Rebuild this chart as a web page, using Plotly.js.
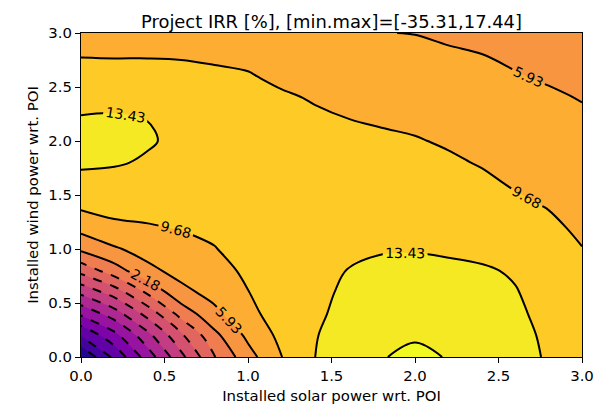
<!DOCTYPE html>
<html>
<head>
<meta charset="utf-8">
<script src="https://cdn.plot.ly/plotly-3.0.1.min.js"></script>
<style>
  html, body { margin: 0; padding: 0; background: #ffffff; }
  #chart { width: 610px; height: 405px; }
</style>
</head>
<body>
<div id="chart"></div>
<script>
// Installed solar power wrt. POI (x) and installed wind power wrt. POI (y)
const solarX = [0.0, 0.2, 0.4, 0.6, 0.8, 1.0, 1.2, 1.4, 1.6, 1.8, 2.0, 2.2, 2.4, 2.6, 2.8, 3.0];
const windY  = [0.0, 0.2, 0.4, 0.6, 0.8, 1.0, 1.2, 1.4, 1.6, 1.8, 2.0, 2.2, 2.4, 2.6, 2.8, 3.0];

// Project IRR [%], one row per wind value
const irrRow00 = [-35.31, -26.9, -18.5, -10.1, -1.7, 4.5, 9.6, 13.4, 15.7, 17.12, 17.44, 17.12, 16.3, 14.9, 13.0, 11.6];
const irrRow02 = [-27.5, -21.5, -13.9, -6.0, 1.2, 6.8, 10.6, 13.2, 15.3, 16.6, 17.05, 16.6, 15.8, 14.5, 12.8, 11.3];
const irrRow04 = [-19.7, -14.6, -7.7, -0.2, 5.0, 8.9, 11.0, 12.75, 14.6, 15.85, 16.1, 15.9, 15.2, 14.0, 12.5, 11.0];
const irrRow06 = [-11.9, -7.3, -0.9, 4.9, 7.2, 9.6, 11.3, 12.6, 14.0, 15.0, 15.1, 15.0, 14.4, 13.6, 12.2, 10.7];
const irrRow08 = [-4.1, 0.5, 5.0, 7.2, 8.3, 10.4, 11.5, 12.5, 13.5, 14.1, 14.2, 14.0, 13.8, 13.1, 11.6, 10.3];
const irrRow10 = [2.88, 5.5, 7.35, 8.5, 9.55, 11.0, 11.6, 12.3, 12.9, 13.2, 13.25, 13.05, 12.6, 12.0, 10.9, 9.75];
const irrRow12 = [7.2, 8.9, 9.4, 9.9, 10.4, 11.3, 11.5, 12.0, 12.35, 12.5, 12.55, 12.2, 11.65, 11.0, 10.2, 9.2];
const irrRow14 = [10.3, 10.9, 10.9, 11.0, 11.1, 11.4, 11.3, 11.6, 11.8, 11.85, 11.85, 11.4, 10.9, 10.2, 9.55, 8.65];
const irrRow16 = [12.5, 12.3, 12.0, 11.9, 11.5, 11.3, 11.0, 11.1, 11.2, 11.2, 11.15, 10.7, 10.2, 9.45, 8.9, 8.1];
const irrRow18 = [13.9, 13.7, 13.1, 12.5, 11.7, 11.1, 10.75, 10.7, 10.7, 10.6, 10.5, 10.05, 9.5, 8.8, 8.3, 7.55];
const irrRow20 = [14.6, 14.3, 13.7, 12.8, 11.7, 10.9, 10.5, 10.3, 10.15, 10.05, 9.85, 9.4, 8.75, 8.1, 7.65, 7.0];
const irrRow22 = [13.7, 13.8, 13.4, 12.6, 11.5, 10.6, 10.2, 10.05, 9.7, 9.45, 9.15, 8.6, 8.0, 7.45, 7.0, 6.4];
const irrRow24 = [12.3, 12.5, 12.5, 11.9, 11.0, 10.3, 10.0, 9.5, 8.9, 8.7, 8.4, 7.8, 7.3, 6.8, 6.35, 5.8];
const irrRow26 = [10.9, 11.0, 11.0, 10.7, 10.2, 9.85, 9.2, 8.6, 8.1, 7.9, 7.6, 7.1, 6.65, 6.1, 5.6, 5.2];
const irrRow28 = [9.5, 9.4, 9.4, 9.35, 9.2, 9.1, 8.3, 7.85, 7.35, 7.0, 6.8, 6.25, 5.95, 5.45, 4.95, 4.6];
const irrRow30 = [8.3, 8.2, 8.1, 8.2, 8.1, 8.0, 7.6, 7.1, 6.6, 6.0, 5.85, 5.5, 5.2, 4.8, 4.4, 4.0];

// Contour levels shown in the reference
const levelStart = -31.57;
const levelEnd = 17.18;
const levelStep = 3.75;
const lastNegativeLevel = -1.57;
const firstPositiveLevel = 2.18;

const irr = [irrRow00, irrRow02, irrRow04, irrRow06, irrRow08, irrRow10, irrRow12, irrRow14,
             irrRow16, irrRow18, irrRow20, irrRow22, irrRow24, irrRow26, irrRow28, irrRow30];

// plasma colours of the 15 filled bands (lowest band first)
const bandColors = ['#200690', '#45039E', '#6101A6', '#7E03A8', '#9814A0', '#AF2891', '#C23D81',
                    '#D45170', '#E26660', '#EF7D50', '#F89540', '#FDAE32', '#FDCA26', '#F5E924', '#F0F921'];
const bandScale = bandColors.map((c, i) => [i / (bandColors.length - 1), c]);

const FONT = 'DejaVu Sans, Verdana, sans-serif';
const BASE = 14.9;

const fillTrace = {
  type: 'contour', x: solarX, y: windY, z: irr,
  autocontour: false,
  contours: { start: levelStart, end: levelEnd, size: levelStep, coloring: 'fill', showlines: false },
  line: { width: 0, smoothing: 1 },
  colorscale: bandScale, showscale: false, hoverinfo: 'skip'
};

const posLines = {
  type: 'contour', x: solarX, y: windY, z: irr,
  autocontour: false,
  contours: { start: firstPositiveLevel, end: levelEnd, size: levelStep, coloring: 'none',
              showlabels: true, labelformat: '.2f',
              labelfont: { family: FONT, size: 14, color: '#000000' } },
  line: { color: '#000000', width: 2, smoothing: 1 },
  showscale: false, hoverinfo: 'skip'
};

const negLines = {
  type: 'contour', x: solarX, y: windY, z: irr,
  autocontour: false,
  contours: { start: levelStart, end: lastNegativeLevel, size: levelStep, coloring: 'none',
              showlabels: true, labelformat: '.2f',
              labelfont: { family: FONT, size: 14, color: '#000000' } },
  line: { color: '#000000', width: 2, smoothing: 1, dash: 'dash' },
  showscale: false, hoverinfo: 'skip'
};

const axisCommon = {
  range: [0, 3], tick0: 0, dtick: 0.5, tickformat: '.1f',
  ticks: 'outside', ticklen: 5, tickwidth: 1, tickcolor: '#000000',
  showline: true, linecolor: '#000000', linewidth: 1, mirror: true,
  showgrid: false, zeroline: false,
  tickfont: { family: FONT, size: BASE, color: '#000000' }
};

const layout = {
  width: 610, height: 405,
  margin: { l: 81, r: 28, t: 33, b: 48 },
  paper_bgcolor: '#ffffff', plot_bgcolor: '#ffffff',
  showlegend: false,
  title: {
    text: 'Project IRR [%], [min.max]=[-35.31,17.44]',
    font: { family: FONT, size: 17.9, color: '#000000' },
    x: 0.5, xref: 'paper', xanchor: 'center',
    y: 1, yref: 'paper', yanchor: 'bottom', pad: { b: 5 }
  },
  xaxis: Object.assign({}, axisCommon, {
    title: { text: 'Installed solar power wrt. POI', font: { family: FONT, size: BASE, color: '#000000' }, standoff: 17 }
  }),
  yaxis: Object.assign({}, axisCommon, {
    title: { text: 'Installed wind power wrt. POI', font: { family: FONT, size: BASE, color: '#000000' }, standoff: 6 }
  })
};

Plotly.newPlot('chart', [fillTrace, posLines, negLines], layout, { staticPlot: true, displayModeBar: false });
</script>
</body>
</html>
